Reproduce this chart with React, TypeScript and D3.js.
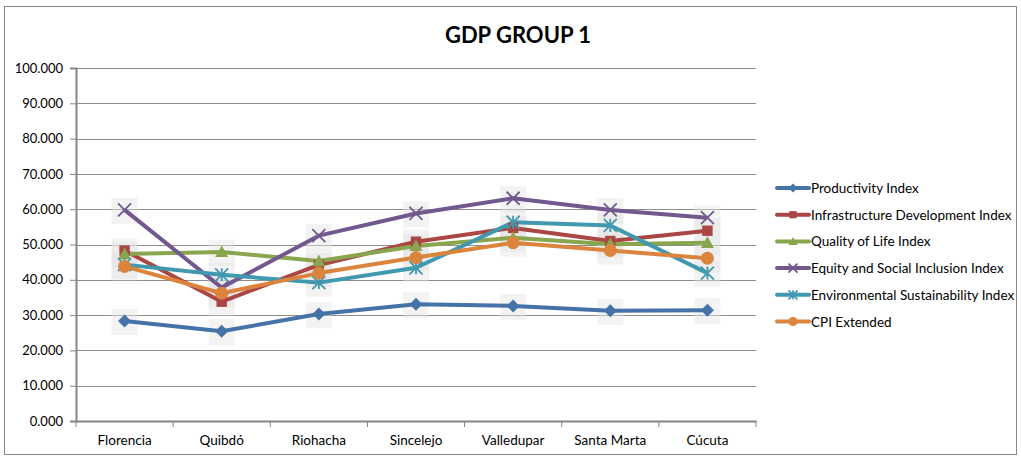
import { useEffect, useRef } from 'react'
import * as d3 from 'd3'

const cities = ['Florencia', 'Quibdó', 'Riohacha', 'Sincelejo', 'Valledupar', 'Santa Marta', 'Cúcuta']
const seriesNames = [
  'Productivity Index',
  'Infrastructure Development Index',
  'Quality of Life Index',
  'Equity and Social Inclusion Index',
  'Environmental Sustainability Index',
  'CPI Extended',
]
const productivity = [28.3, 25.4, 30.3, 33.1, 32.6, 31.2, 31.4]
const infrastructure = [48.3, 33.8, 44.2, 50.8, 54.7, 51.0, 53.9]
const qualityOfLife = [47.3, 47.9, 45.3, 49.6, 51.9, 50.1, 50.5]
const equity = [59.8, 37.8, 52.5, 58.8, 63.1, 59.8, 57.6]
const environmental = [44.3, 41.4, 39.2, 43.4, 56.3, 55.4, 41.9]
const cpiExtended = [43.8, 36.2, 41.9, 46.3, 50.5, 48.3, 46.1]
const yTicks = [0, 10, 20, 30, 40, 50, 60, 70, 80, 90, 100]

const colors = ['#4572A7', '#AA4643', '#89A54E', '#71588F', '#4198AF', '#DB843D']
const markers = ['diamond', 'square', 'triangle', 'x', 'star', 'circle']

const M = { top: 68, left: 76, right: 265, bottom: 37 }
const W = 1021, H = 458

export default function App() {
  const svgRef = useRef<SVGSVGElement>(null)

  useEffect(() => {
    const svg = d3.select(svgRef.current)
    svg.selectAll('*').remove()
    const font = 'Lato, "Open Sans", sans-serif'

    const values = [productivity, infrastructure, qualityOfLife, equity, environmental, cpiExtended]
    const plotW = W - M.left - M.right
    const plotH = H - M.top - M.bottom

    // chart border
    svg.append('rect').attr('x', 4.5).attr('y', 6.5).attr('width', 1012).attr('height', 448)
      .attr('fill', '#fff').attr('stroke', '#868686').attr('stroke-width', 1)

    svg.append('text').attr('x', 518).attr('y', 43).attr('text-anchor', 'middle')
      .attr('font-family', font).attr('font-weight', 700).attr('font-size', 22).attr('fill', '#000')
      .text('GDP GROUP 1')

    const x = d3.scaleBand().domain(cities).range([0, plotW])
    const y = d3.scaleLinear().domain([0, 100]).range([plotH, 0])

    const g = svg.append('g').attr('transform', `translate(${M.left},${M.top})`)

    // gridlines
    g.selectAll('.grid').data(yTicks.filter(t => t > 0)).join('line')
      .attr('x1', 0).attr('x2', plotW)
      .attr('y1', d => Math.round(y(d)) + 0.5).attr('y2', d => Math.round(y(d)) + 0.5)
      .attr('stroke', '#8c8c8c').attr('stroke-width', 1)

    // y axis
    const yAxis = d3.axisLeft(y).tickValues(yTicks).tickSize(6).tickFormat(d => d3.format('.3f')(d as number))
    g.append('g').call(yAxis).call(ax => {
      ax.select('.domain').attr('stroke', '#868686').attr('stroke-width', 2)
      ax.selectAll('.tick line').attr('stroke', '#868686')
      ax.selectAll('text').attr('fill', '#000').attr('font-size', 13).attr('font-family', font).attr('x', -13)
    })

    // x axis
    const xAxis = d3.axisBottom(x).tickSize(0).tickPadding(14)
    g.append('g').attr('transform', `translate(0,${plotH})`).call(xAxis).call(ax => {
      ax.select('.domain').attr('stroke', '#868686').attr('stroke-width', 2)
      ax.selectAll('text').attr('fill', '#000').attr('font-size', 13.5).attr('font-family', font)
    })
    g.append('g').selectAll('line').data(d3.range(cities.length + 1)).join('line')
      .attr('x1', i => i * x.step()).attr('x2', i => i * x.step())
      .attr('y1', plotH).attr('y2', plotH + 6).attr('stroke', '#868686')

    const cx = (c: string) => (x(c) ?? 0) + x.bandwidth() / 2

    const drawMarker = (sel: d3.Selection<SVGGElement, unknown, null, undefined>, kind: string, color: string, s: number) => {
      if (kind === 'diamond') {
        sel.append('path').attr('d', `M0,${-s}L${s},0L0,${s}L${-s},0Z`).attr('fill', color)
      } else if (kind === 'square') {
        sel.append('rect').attr('x', -s * 0.8).attr('y', -s * 0.8).attr('width', s * 1.6).attr('height', s * 1.6).attr('fill', color)
      } else if (kind === 'triangle') {
        sel.append('path').attr('d', `M0,${-s}L${s},${s * 0.8}L${-s},${s * 0.8}Z`).attr('fill', color)
      } else if (kind === 'x') {
        sel.append('path').attr('d', `M${-s},${-s}L${s},${s}M${s},${-s}L${-s},${s}`).attr('stroke', color).attr('stroke-width', 1.8)
      } else if (kind === 'star') {
        sel.append('path').attr('d', `M${-s},${-s}L${s},${s}M${s},${-s}L${-s},${s}M0,${-s}L0,${s}`).attr('stroke', color).attr('stroke-width', 1.8)
      } else {
        sel.append('circle').attr('r', s).attr('fill', color)
      }
    }

    // soft marker shadows behind everything
    const shadowLayer = g.append('g')
    const lineLayer = g.append('g')
    const markerLayer = g.append('g')

    values.forEach((vals, si) => {
      const col = colors[si]
      const line = d3.line<number>().x((_, i) => cx(cities[i])).y(d => y(d))
      lineLayer.append('path').datum(vals).attr('d', line).attr('fill', 'none')
        .attr('stroke', col).attr('stroke-width', 4).attr('stroke-linejoin', 'round')
      vals.forEach((v, i) => {
        shadowLayer.append('rect').attr('x', cx(cities[i]) - 13).attr('y', y(v) - 12).attr('width', 26).attr('height', 26)
          .attr('fill', '#e4e4e4').attr('opacity', 0.45)
        const mg = markerLayer.append('g').attr('transform', `translate(${cx(cities[i])},${y(v)})`)
        drawMarker(mg, markers[si], col, 6.5)
      })
    })

    // legend
    const lg = svg.append('g').attr('transform', 'translate(777,188)')
    seriesNames.forEach((name, i) => {
      const row = lg.append('g').attr('transform', `translate(0,${i * 26.7})`)
      row.append('line').attr('x1', 0).attr('x2', 32).attr('stroke', colors[i]).attr('stroke-width', 4)
        .attr('stroke-linecap', 'round')
      const mg = row.append('g').attr('transform', 'translate(16,0)')
      drawMarker(mg, markers[i], colors[i], 4.5)
      row.append('text').attr('x', 34).attr('y', 5).attr('font-family', font).attr('font-size', 13.5)
        .attr('fill', '#000').text(name)
    })
  }, [])

  return <svg ref={svgRef} width={W} height={H} style={{ display: 'block', position: 'absolute', left: 0, top: 0 }} />
}
